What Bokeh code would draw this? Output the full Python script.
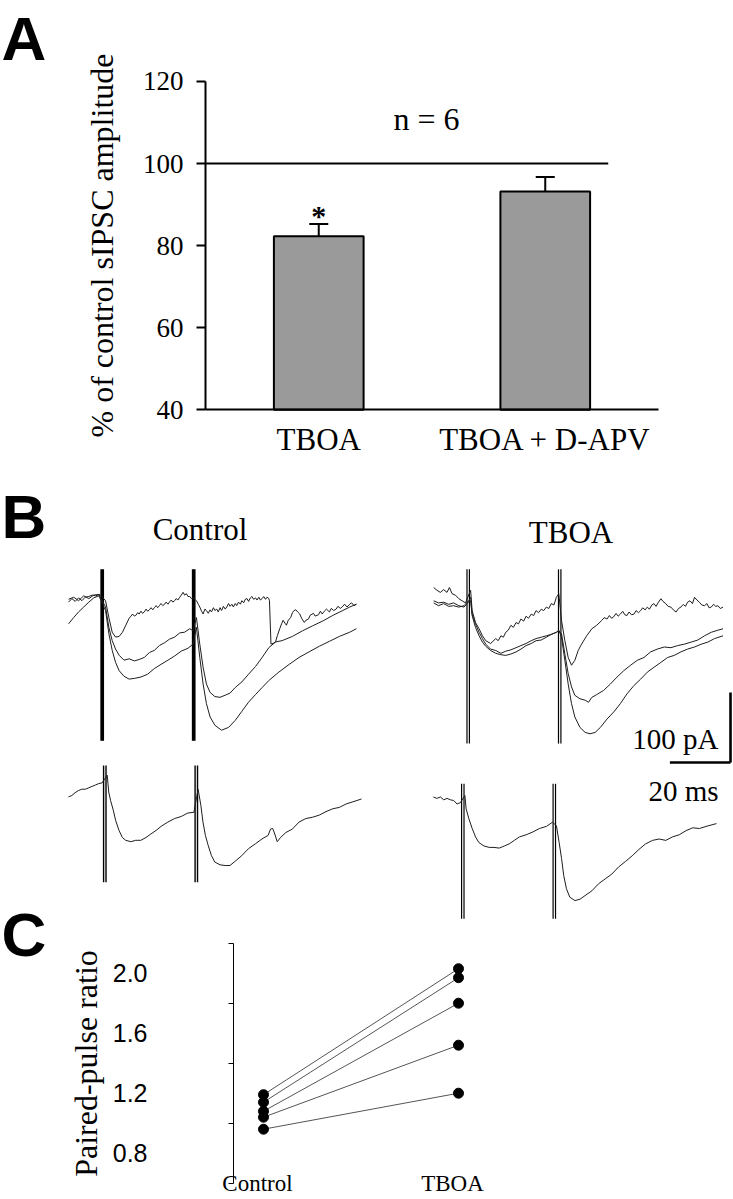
from bokeh.plotting import figure
from bokeh.models import Range1d, FixedTicker, Label, PrintfTickFormatter
from bokeh.layouts import column, row
from bokeh.embed import file_html
from bokeh.resources import INLINE
from bokeh.core.properties import value

SERIF = "Liberation Serif"
SANS = "Liberation Sans"

# ---------------- Panel A data ----------------
a_categories = ["TBOA", "TBOA + D-APV"]
a_mean = [82.3, 93.2]
a_sem = [3.0, 3.5]
a_ticks = [40, 60, 80, 100, 120]
a_control = 100
a_n = 6

# ---------------- Panel B data (time in ms, current in pA) ----------------
stim_ms = [0.0, 30.2]
scale_ms = 20
scale_pa = 100

# Control, three superimposed sweeps
ct_small_t = [-11.1, -10.0, -8.9, -7.8, -6.7, -5.6, -4.4, -3.3, -2.2, -0.8,
              1.1, 2.2, 3.3, 4.4, 5.6, 6.7, 7.8, 8.9, 9.5, 10.0, 10.6, 11.1, 11.7, 12.2, 12.8, 13.3,
              13.9, 14.5, 15.0, 15.6, 16.1, 16.7, 17.2, 17.8, 18.3, 18.9, 19.4, 20.0, 20.6, 21.1,
              21.7, 22.2, 22.8, 23.3, 23.9, 24.4, 25.0, 25.6, 26.1, 26.7, 27.2, 27.8, 28.3, 28.9,
              29.4, 30.0,
              31.1, 31.7, 32.2, 32.8, 33.3, 33.9, 34.4, 35.0, 35.6, 36.1, 36.7, 37.2, 37.8, 38.3,
              38.9, 39.4, 40.0, 40.6, 41.1, 41.7, 42.2, 42.8, 43.3, 43.9, 44.4, 45.0, 45.6, 46.1,
              46.7, 47.2, 47.8, 48.3, 48.9, 49.4, 50.0, 50.6, 51.1, 51.7, 52.2, 52.8, 53.3, 53.9,
              54.4, 55.0, 55.2, 55.7, 56.4, 57.2, 57.8, 58.6, 59.2, 59.7, 60.3, 60.8, 61.4, 62.2,
              62.8, 63.3, 63.9, 64.5, 65.2, 65.8, 66.7, 67.2, 68.1, 68.6, 69.7, 70.3, 71.4, 72.0,
              72.6, 73.3, 74.0, 75.0, 75.6, 76.4, 77.2, 77.8, 78.6, 79.4, 80.0, 80.8, 81.7, 82.3,
              83.1, 83.9]
ct_small_i = [-7, -2, -6, -1, -5, 0, 1, 3, 2, 4,
              -5, -29, -50, -57, -56, -50, -40, -30, -27, -24, -27, -26, -22, -24, -20, -23,
              -21, -17, -20, -18, -15, -18, -15, -12, -15, -12, -9, -12, -10, -7,
              -10, -7, -4, -7, -5, -2, -4, 0, 3, 7, 3, 5, 1, 1,
              -2, -1,
              -5, -10, -14, -20, -24, -17, -19, -23, -18, -21, -15, -19, -17, -21,
              -15, -19, -13, -17, -14, -9, -13, -10, -14, -9, -12, -7, -10, -5,
              -8, -3, -2, -6, -1, 1, -3, -1, -4, 0, -4, -2, 1, -3,
              0, -2, -5, -67, -66, -64, -55, -45, -38, -33, -37, -40, -33, -29,
              -22, -19, -18, -21, -24, -30, -36, -33, -31, -26, -23, -27, -25, -20,
              -24, -20, -17, -21, -16, -19, -17, -13, -16, -13, -10, -14, -10, -8,
              -12, -10]
ct_mid_t = [-11.1, -9.4, -7.8, -6.1, -4.4, -2.8, -1.1,
            1.1, 2.2, 3.3, 4.4, 5.6, 7.2, 8.9, 10.6, 12.2, 13.9, 15.6, 17.2, 18.9, 20.6, 22.2, 23.9,
            25.6, 27.2, 28.9, 30.0,
            31.1, 32.2, 33.3, 34.4, 35.6, 37.2, 38.9, 40.6, 42.2, 43.9, 46.1, 48.3, 50.6, 52.8, 55.0,
            57.2, 59.4, 62.8, 66.1, 69.4, 72.8, 76.1, 79.4, 81.7, 83.9]
ct_mid_i = [-3, 0, -5, 2, -2, 3, 4,
            -14, -43, -62, -74, -83, -90, -88, -91, -89, -86, -79, -76, -69, -65, -60, -57,
            -51, -50, -45, -48,
            -29, -67, -100, -124, -136, -142, -143, -140, -137, -129, -121, -110, -99, -86, -72,
            -64, -62, -56, -48, -41, -34, -26, -19, -14, -10]
ct_big_t = [-11.1, -9.4, -7.8, -6.1, -4.4, -2.8, -1.1,
            1.1, 2.2, 3.3, 4.4, 5.6, 7.2, 8.9, 10.6, 12.8, 15.0, 17.2, 19.4, 21.7, 23.9, 26.1,
            28.3, 30.0,
            31.1, 32.2, 33.3, 34.4, 35.6, 37.2, 39.4, 41.7, 43.9, 46.1, 48.3, 50.6, 52.8, 55.0,
            58.3, 61.7, 65.0, 68.3, 71.7, 75.0, 78.3, 81.7, 83.9]
ct_big_i = [-38, -29, -21, -14, -7, -1, 2,
            -19, -52, -76, -93, -105, -113, -117, -116, -114, -110, -102, -96, -90, -84, -77,
            -73, -67,
            -43, -86, -124, -152, -171, -183, -190, -186, -176, -163, -150, -139, -129, -119,
            -107, -96, -86, -78, -70, -63, -56, -50, -45]

# TBOA, three superimposed sweeps
tt_small_t = [-11.4, -10.3, -9.2, -8.1, -7.0, -6.2, -5.3, -4.2, -3.1, -2.0, -0.9,
              0.8, 1.3, 2.4, 3.6, 4.7, 5.8, 7.4, 9.1, 9.9, 10.8, 11.6, 12.4, 13.2, 14.1, 14.9,
              15.8, 16.6, 17.4, 18.3, 19.1, 19.9, 20.8, 21.6, 22.4, 23.2, 24.1, 24.9, 25.8, 26.6,
              27.4, 28.3, 29.1, 29.9,
              30.8, 31.9, 33.0, 34.1, 35.2, 36.3, 37.4, 39.1, 40.8, 42.4, 44.1, 44.9, 45.8, 46.6,
              47.3, 48.0, 48.8, 49.5, 50.2, 51.0, 51.7, 52.4, 53.1, 53.9, 54.7, 55.4, 56.2, 56.9,
              57.6, 58.4, 59.1, 59.8, 60.6, 61.3, 62.0, 62.8, 63.6, 64.3, 65.2, 66.0, 66.9, 67.7,
              68.6, 69.4, 70.2, 71.0, 71.7, 72.4, 73.2, 74.0, 74.7, 75.5, 76.3, 77.1, 78.0, 78.8,
              79.5, 80.2, 81.0, 81.7, 82.4, 83.2, 84.1]
tt_small_i = [21, 17, 14, 18, 14, 21, 12, 10, 5, 2, -1,
              17, -12, -29, -38, -48, -55, -59, -52, -55, -48, -50, -43, -40, -33, -36,
              -29, -31, -24, -27, -20, -23, -17, -19, -12, -15, -10, -12, -7, -9,
              -2, -4, 7, 12,
              -26, -55, -79, -90, -83, -69, -60, -48, -38, -33, -26, -22, -24, -19,
              -23, -21, -16, -20, -17, -13, -18, -19, -14, -18, -17, -12, -15, -12,
              -8, -11, -7, -10, -4, -2, -6, 0, 5, 1, -2, -6, -7, -11,
              -14, -9, -7, -3, -6, 0, 2, -2, 7, 3, 0, -4, -5, -2,
              -8, -7, -3, -6, -5, -9, -7]
tt_mid_t = [-11.4, -9.8, -8.1, -6.4, -4.8, -3.1, -1.4, -0.3,
            0.8, 1.3, 2.4, 3.6, 4.7, 5.8, 7.4, 9.1, 10.8, 12.4, 14.1, 15.8, 17.4, 19.1, 20.8,
            22.4, 24.1, 25.8, 27.4, 29.1, 29.9,
            30.8, 31.9, 33.0, 34.1, 35.2, 36.9, 38.6, 39.7, 40.8, 42.4, 44.7, 46.9, 49.1, 51.3,
            53.6, 55.8, 58.0, 60.2, 62.4, 64.7, 66.9, 69.1, 71.3, 73.6, 75.8, 78.0, 80.2, 82.4, 84.1]
tt_mid_i = [2, -1, 0, -3, -1, -5, -7, -2,
            7, -17, -31, -43, -52, -60, -67, -69, -73, -70, -68, -65, -62, -59, -55,
            -52, -50, -48, -46, -43, -41,
            -45, -74, -102, -121, -133, -138, -140, -143, -136, -132, -126, -117, -107, -98,
            -90, -83, -79, -71, -67, -64, -65, -62, -60, -57, -54, -48, -43, -40, -38]
tt_big_t = [-11.4, -9.8, -8.1, -6.4, -4.8, -3.1, -1.4, -0.3,
            0.8, 1.3, 2.4, 3.6, 4.7, 5.8, 7.4, 9.1, 10.8, 12.4, 14.1, 15.8, 17.4, 19.1, 20.8,
            22.4, 24.1, 25.8, 27.4, 29.1, 29.9,
            30.8, 31.9, 33.0, 34.1, 35.2, 36.9, 38.6, 40.2, 41.9, 43.6, 45.8, 48.0, 50.2, 52.4,
            54.7, 56.9, 59.1, 61.3, 63.6, 65.8, 68.0, 70.2, 72.4, 74.7, 76.9, 79.1, 81.3, 84.1]
tt_big_i = [-1, -5, -2, -6, -5, -7, -5, 0,
            2, -19, -36, -48, -57, -63, -69, -73, -75, -76, -74, -71, -67, -62, -59,
            -55, -54, -50, -46, -43, -40,
            -50, -83, -117, -145, -164, -179, -186, -188, -186, -179, -167, -157, -145, -131,
            -119, -110, -100, -93, -86, -79, -76, -71, -67, -64, -60, -57, -52, -48]

# Single sweeps
cb_t = [-12.0, -10.9, -9.8, -8.7, -7.6, -6.4, -5.3, -4.2, -3.1, -2.0, -0.9,
        0.8, 1.3, 1.9, 2.8, 3.6, 4.7, 5.8, 6.9, 8.6, 10.2, 11.9, 13.6, 15.2, 16.9, 18.6, 20.8,
        23.0, 25.2, 27.4, 29.4,
        30.8, 31.7, 32.4, 33.2, 34.1, 35.2, 36.3, 38.0, 39.7, 41.3, 43.0, 45.2, 47.4, 49.7, 51.9,
        53.9, 54.7, 55.4, 56.1, 56.9, 58.0, 59.7, 61.9, 64.1, 66.3, 68.6, 70.8, 73.0, 75.2, 77.4,
        79.7, 81.9, 84.7]
cb_i = [-21, -19, -15, -12, -10, -10, -8, -6, -4, -2, -1,
        10, -14, -26, -40, -55, -69, -79, -83, -85, -83, -83, -79, -74, -69, -63, -57,
        -52, -49, -44, -43,
        -10, -33, -57, -76, -90, -105, -114, -118, -119, -119, -113, -105, -95, -88, -81,
        -76, -67, -66, -74, -85, -79, -72, -67, -57, -52, -50, -47, -42, -38, -36,
        -31, -28, -24]
tb_t = [-9.7, -8.6, -7.4, -6.3, -5.2, -4.1, -3.0, -1.9, -0.8,
        0.7, 1.1, 2.0, 3.1, 4.2, 5.3, 7.0, 8.7, 10.3, 12.0, 13.7, 15.3, 17.0, 18.7, 20.9, 23.1,
        25.3, 27.6, 29.6,
        30.9, 31.8, 32.6, 33.3, 34.2, 35.3, 37.0, 38.7, 40.3, 42.6, 44.8, 47.0, 49.2, 51.4, 53.7,
        55.9, 58.1, 60.3, 62.6, 64.8, 67.0, 69.2, 71.4, 73.7, 75.9, 78.1, 80.3, 83.7]
tb_i = [5, 3, 5, 1, 3, 1, 0, -5, -3,
        7, -12, -26, -40, -52, -60, -65, -67, -67, -68, -65, -62, -57, -52, -49, -45,
        -40, -37, -31,
        -36, -60, -83, -107, -126, -138, -143, -141, -136, -129, -119, -112, -105, -95, -87,
        -79, -70, -62, -57, -55, -57, -52, -49, -43, -39, -40, -37, -33]

# ---------------- Panel C data ----------------
c_conditions = ["Control", "TBOA"]
ppr_control = [1.19, 1.14, 1.08, 1.04, 0.96]
ppr_tboa = [2.03, 1.97, 1.80, 1.52, 1.20]
c_ticks = [0.8, 1.2, 1.6, 2.0]
c_minor = [0.6, 1.0, 1.4, 1.8, 2.2]


# ---------------- helpers (layout only) ----------------
def plain_fig(w, h, xr, yr, **kw):
    f = figure(width=w, height=h, x_range=Range1d(*xr), y_range=Range1d(*yr),
               output_backend="svg", toolbar_location=None,
               min_border_left=0, min_border_right=0, min_border_top=0, min_border_bottom=0, **kw)
    f.outline_line_color = None
    f.grid.visible = False
    return f


def x_span(w, ref_px, ref_val, ppu):
    return (ref_val - ref_px / ppu, ref_val + (w - ref_px) / ppu)


def y_span(h, ref_px, ref_val, ppu):
    # ref_px measured from the top of the figure
    return (ref_val - (h - ref_px) / ppu, ref_val + ref_px / ppu)


LETTER_SIZE = 62
LETTER_SHIFT = 22   # baseline correction for the letter labels


def letter(x, y, txt):
    return Label(x=x, y=y + LETTER_SHIFT, x_units="screen", y_units="screen", text=txt,
                 text_font=SANS, text_font_size="%dpx" % LETTER_SIZE, text_font_style="bold",
                 text_color="black", text_align="left", text_baseline="alphabetic")


def caption(x, y, txt, size="31px", align="center"):
    return Label(x=x, y=y, x_units="screen", y_units="screen", text=txt,
                 text_font=SERIF, text_font_size=size, text_color="black",
                 text_align=align, text_baseline="alphabetic")


# ======================= Panel A =======================
A_W, A_H = 733, 465
figA = plain_fig(A_W, A_H, x_span(A_W, 205, 0, 226.5), y_span(A_H, 409.3, 40, 4.104))
xpos = [i + 0.5 for i in range(len(a_categories))]
figA.vbar(x=xpos, top=a_mean, bottom=40, width=0.396, fill_color="#9a9a9a",
          line_color="black", line_width=2)
tops = [m + s for m, s in zip(a_mean, a_sem)]
figA.segment(x0=xpos, y0=a_mean, x1=xpos, y1=tops, line_color="black", line_width=2)
figA.segment(x0=[x - 0.042 for x in xpos], y0=tops, x1=[x + 0.042 for x in xpos], y1=tops,
             line_color="black", line_width=2)
figA.segment(x0=[0], y0=[a_control], x1=[1.778], y1=[a_control], line_color="black", line_width=2)
figA.text(x=[xpos[0]], y=[tops[0]], text=["*"], text_font=value(SERIF), text_font_size=value("30px"),
          text_font_style="bold", text_align="center", text_baseline="alphabetic", y_offset=-8,
          text_color="black")
figA.add_layout(Label(x=0.976, y=110.8, text="n = %d" % a_n, text_font=SERIF, text_font_size="32px",
                      text_align="center", text_baseline="alphabetic", text_color="black"))
figA.add_layout(letter(1, A_H - 60, "A"))

ya = figA.yaxis[0]
ya.fixed_location = 0
ya.bounds = (a_ticks[0], a_ticks[-1])
ya.ticker = FixedTicker(ticks=a_ticks)
ya.major_tick_in = 0
ya.major_tick_out = 9
ya.minor_tick_in = 0
ya.minor_tick_out = 0
ya.axis_line_width = 2
ya.major_tick_line_width = 2
ya.axis_line_color = "black"
ya.major_tick_line_color = "black"
ya.major_label_text_font = SERIF
ya.major_label_text_font_size = "27px"
ya.major_label_text_color = "black"
ya.major_label_standoff = 13
ya.axis_label = "% of control sIPSC amplitude"
ya.axis_label_text_font = SERIF
ya.axis_label_text_font_size = "32px"
ya.axis_label_text_font_style = "normal"
ya.axis_label_text_color = "black"
ya.axis_label_standoff = 20

xa = figA.xaxis[0]
xa.fixed_location = 40
xa.bounds = (0, 2)
xa.ticker = FixedTicker(ticks=xpos)
xa.major_label_overrides = {x: c for x, c in zip(xpos, a_categories)}
xa.major_tick_in = 0
xa.major_tick_out = 0
xa.minor_tick_in = 0
xa.minor_tick_out = 0
xa.axis_line_width = 2
xa.axis_line_color = "black"
xa.major_label_text_font = SERIF
xa.major_label_text_font_size = "31px"
xa.major_label_text_color = "black"
xa.major_label_standoff = 12

# ======================= Panel B =======================
PX_PER_MS = 3.03
PX_PER_PA = 0.7


def trace_fig(w, h, t0_px, i0_px):
    """t0_px, i0_px: position (from the figure's top-left) of t = 0 ms, I = 0 pA."""
    return plain_fig(w, h, x_span(w, t0_px, 0, PX_PER_MS), y_span(h, i0_px, 0, PX_PER_PA),
                     x_axis_type=None, y_axis_type=None)


def artifacts(f, top, bottom, width, gap=0.4):
    xs = [s + d for s in stim_ms for d in (-gap, gap)]
    f.segment(x0=xs, y0=[top] * len(xs), x1=xs, y1=[bottom] * len(xs),
              line_color="black", line_width=width)


TRACE = dict(line_color="#1e1e1e", line_width=1)

fCT = trace_fig(388, 297, 101.7, 131.7)
artifacts(fCT, 40, -205, 2.2, gap=0.25)
for t, i in ((ct_small_t, ct_small_i), (ct_mid_t, ct_mid_i), (ct_big_t, ct_big_i)):
    fCT.line(t, i, **TRACE)
fCT.add_layout(letter(1, 297 - (538 - 465), "B"))
fCT.add_layout(caption(199.5, 233, "Control"))

fCB = trace_fig(388, 160, 104.3, 19.7)
artifacts(fCB, 24, -143, 1.4)
fCB.line(cb_t, cb_i, **TRACE)

fTT = trace_fig(345, 310, 79.7, 136.7)
artifacts(fTT, 47, -202, 1.2)
for t, i in ((tt_small_t, tt_small_i), (tt_mid_t, tt_mid_i), (tt_big_t, tt_big_i)):
    fTT.line(t, i, **TRACE)
fTT.add_layout(caption(182.5, 243, "TBOA"))
# scale bar, corner placed at (342, 297) px of this panel
bar_t = (342 - 79.7) / PX_PER_MS
bar_i = (136.7 - 297) / PX_PER_PA
fTT.segment(x0=[bar_t - scale_ms, bar_t], y0=[bar_i, bar_i], x1=[bar_t, bar_t],
            y1=[bar_i, bar_i + scale_pa], line_color="black", line_width=2.6)
fTT.add_layout(caption(330, 37, "%d pA" % scale_pa, size="29px", align="right"))

fTB = trace_fig(345, 147, 74.3, 25)
artifacts(fTB, 24, -169, 1.2)
fTB.line(tb_t, tb_i, **TRACE)
fTB.add_layout(caption(330, 132, "%d ms" % scale_ms, size="29px", align="right"))

# ======================= Panel C =======================
C_TOP = 890              # page position of the panel's top edge (overlaps panel B by 32 px)
C_W, C_H = 733, 1199 - C_TOP
figC = plain_fig(C_W, C_H, x_span(C_W, 263, 0, 195.0), y_span(C_H, 942.7 - C_TOP, c_minor[-1], 150.0),
                 x_axis_type=None)
figC.margin = (C_TOP - 922, 0, 0, 0)
figC.background_fill_color = None
figC.border_fill_color = None

cx = list(range(len(c_conditions)))
figC.segment(x0=[cx[0]] * len(ppr_control), y0=ppr_control, x1=[cx[1]] * len(ppr_tboa), y1=ppr_tboa,
             line_color="#555555", line_width=1)
figC.scatter(x=[cx[0]] * len(ppr_control), y=ppr_control, size=10, color="black")
figC.scatter(x=[cx[1]] * len(ppr_tboa), y=ppr_tboa, size=10, color="black")
figC.text(x=cx, y=[c_minor[0]] * len(cx), text=c_conditions, text_font=value(SERIF),
          text_font_size=value("23px"), text_align="center", text_baseline="alphabetic",
          x_offset=-6, y_offset=0, text_color="black")
figC.add_layout(letter(1, C_H - (956 - C_TOP), "C"))

yc = figC.yaxis[0]
yc.fixed_location = -30.0 / 195.0
yc.bounds = (c_minor[0], c_minor[-1])
yc.ticker = FixedTicker(ticks=c_ticks, minor_ticks=c_minor)
yc.formatter = PrintfTickFormatter(format="%.1f")
yc.major_tick_in = 0
yc.major_tick_out = 0
yc.minor_tick_in = 0
yc.minor_tick_out = 5
yc.axis_line_width = 1
yc.axis_line_color = "black"
yc.minor_tick_line_color = "black"
yc.minor_tick_line_width = 1
yc.major_label_text_font = SANS
yc.major_label_text_font_size = "25px"
yc.major_label_text_color = "black"
yc.major_label_standoff = 81
yc.axis_label = "Paired-pulse ratio"
yc.axis_label_text_font = SERIF
yc.axis_label_text_font_size = "32px"
yc.axis_label_text_font_style = "normal"
yc.axis_label_text_color = "black"
yc.axis_label_standoff = 6

layout = column(figA, row(column(fCT, fCB), column(fTT, fTB)), figC)
open("out.html", "w").write(file_html(layout, INLINE))
